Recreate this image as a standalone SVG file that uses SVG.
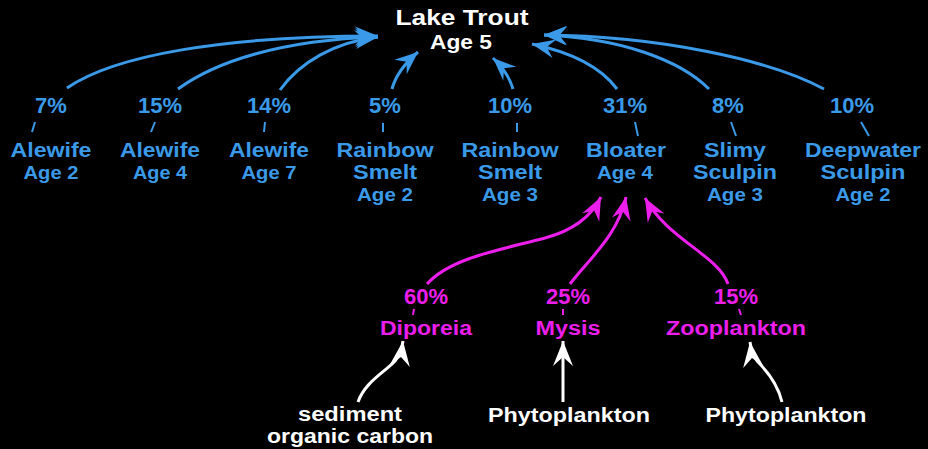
<svg xmlns="http://www.w3.org/2000/svg" width="928" height="449" viewBox="0 0 928 449">
<defs>
<style>
text{font-family:"Liberation Sans",Arial,sans-serif;font-weight:bold;text-anchor:middle}
.t{fill:#ffffff}
.b{fill:#3a9ae8}
.m{fill:#ec1eec}
.w{fill:#ffffff}
.nm{font-size:19.5px}
.ag{font-size:19px}
.pc{font-size:22px}
.eb{fill:none;stroke:#3a9ae8;stroke-width:3}
.em{fill:none;stroke:#ec1eec;stroke-width:3}
.ew{fill:none;stroke:#ffffff;stroke-width:3}
.tk{fill:none;stroke-width:2}
</style>
<marker id="ah-b" viewBox="-25 -11 27 22" refX="0" refY="0" markerWidth="27" markerHeight="22" markerUnits="userSpaceOnUse" orient="auto"><path d="M0,0 L-23,-9.5 L-15,0 L-23,9.5 Z" fill="#3a9ae8"/></marker>
<marker id="ah-m" viewBox="-25 -11 27 22" refX="0" refY="0" markerWidth="27" markerHeight="22" markerUnits="userSpaceOnUse" orient="auto"><path d="M0,0 L-23,-9.5 L-15,0 L-23,9.5 Z" fill="#ec1eec"/></marker>
<marker id="ah-w" viewBox="-27 -12 29 24" refX="0" refY="0" markerWidth="29" markerHeight="24" markerUnits="userSpaceOnUse" orient="auto"><path d="M0,0 L-25,-10 L-16,0 L-25,10 Z" fill="#ffffff"/></marker>
</defs>
<rect x="0" y="0" width="928" height="449" fill="#000000"/>

<g id="connectors">
  <path class="eb" d="M67 88 C115 55, 225 36, 378 36" marker-end="url(#ah-b)"/>
  <path class="eb" d="M178 89 C215 62, 280 40, 378 37" marker-end="url(#ah-b)"/>
  <path class="eb" d="M280 90 C300 62, 335 42, 378 37" marker-end="url(#ah-b)"/>
  <path class="eb" d="M392 89 Q397 70 418 52" marker-end="url(#ah-b)"/>
  <path class="eb" d="M513 89 Q508 72 493 58" marker-end="url(#ah-b)"/>
  <path class="eb" d="M617 89 C600 66, 570 52, 532 44" marker-end="url(#ah-b)"/>
  <path class="eb" d="M709 89 C680 60, 620 38, 544 35" marker-end="url(#ah-b)"/>
  <path class="eb" d="M824 89 C770 60, 660 36, 544 35" marker-end="url(#ah-b)"/>
  <g stroke="#3a9ae8" class="tk">
    <line x1="35" y1="122" x2="32" y2="132"/>
    <line x1="155" y1="122" x2="151" y2="132"/>
    <line x1="265" y1="122" x2="264" y2="132"/>
    <line x1="383" y1="123" x2="383" y2="132"/>
    <line x1="517" y1="123" x2="517" y2="132"/>
    <line x1="635" y1="122" x2="638" y2="136"/>
    <line x1="731" y1="122" x2="736" y2="136"/>
    <line x1="861" y1="122" x2="869" y2="136"/>
  </g>
  <path class="em" d="M427 284 C450 258, 500 250, 545 238 C575 230, 592 215, 601 197" marker-end="url(#ah-m)"/>
  <path class="em" d="M570 284 C590 258, 618 235, 626 197" marker-end="url(#ah-m)"/>
  <path class="em" d="M728 284 C718 255, 668 240, 645 198" marker-end="url(#ah-m)"/>
  <g stroke="#ec1eec" class="tk">
    <line x1="414" y1="309" x2="413" y2="315"/>
    <line x1="563" y1="309" x2="563" y2="315"/>
    <line x1="739" y1="309" x2="741" y2="315"/>
  </g>
  <path class="ew" d="M358 402 C365 382, 385 372, 395 361 C399 356, 402 349, 403 341" marker-end="url(#ah-w)"/>
  <path class="ew" d="M563 402 L563 341" marker-end="url(#ah-w)"/>
  <path class="ew" d="M782 402 C778 385, 768 372, 758 362 C754 357, 751 350, 750 342" marker-end="url(#ah-w)"/>
  <g id="edge-labels">
    <text class="b pc" x="51" y="113">7%</text>
    <text class="b pc" x="160" y="113">15%</text>
    <text class="b pc" x="269" y="113">14%</text>
    <text class="b pc" x="385" y="113">5%</text>
    <text class="b pc" x="510" y="113">10%</text>
    <text class="b pc" x="625" y="113">31%</text>
    <text class="b pc" x="728" y="113">8%</text>
    <text class="b pc" x="852" y="113">10%</text>
    <text class="m pc" x="426" y="304">60%</text>
    <text class="m pc" x="568" y="304">25%</text>
    <text class="m pc" x="736" y="304">15%</text>
  </g>
</g>

<g id="lake-trout">
  <text class="t" font-size="22"><tspan x="462" y="25" textLength="133" lengthAdjust="spacingAndGlyphs">Lake Trout</tspan><tspan x="461" y="49" font-size="20" textLength="62" lengthAdjust="spacingAndGlyphs">Age 5</tspan></text>
</g>
<g id="alewife-2">
  <text class="b nm"><tspan x="51" y="157" textLength="81" lengthAdjust="spacingAndGlyphs">Alewife</tspan><tspan class="ag" x="51" y="179" textLength="55" lengthAdjust="spacingAndGlyphs">Age 2</tspan></text>
</g>
<g id="alewife-4">
  <text class="b nm"><tspan x="160" y="157" textLength="80" lengthAdjust="spacingAndGlyphs">Alewife</tspan><tspan class="ag" x="160" y="179" textLength="54" lengthAdjust="spacingAndGlyphs">Age 4</tspan></text>
</g>
<g id="alewife-7">
  <text class="b nm"><tspan x="269" y="157" textLength="80" lengthAdjust="spacingAndGlyphs">Alewife</tspan><tspan class="ag" x="269" y="179" textLength="55" lengthAdjust="spacingAndGlyphs">Age 7</tspan></text>
</g>
<g id="rainbow-smelt-2">
  <text class="b nm"><tspan x="385" y="157" textLength="97" lengthAdjust="spacingAndGlyphs">Rainbow</tspan><tspan x="385" y="179" textLength="64" lengthAdjust="spacingAndGlyphs">Smelt</tspan><tspan class="ag" x="385" y="201" textLength="56" lengthAdjust="spacingAndGlyphs">Age 2</tspan></text>
</g>
<g id="rainbow-smelt-3">
  <text class="b nm"><tspan x="510" y="157" textLength="97" lengthAdjust="spacingAndGlyphs">Rainbow</tspan><tspan x="510" y="179" textLength="64" lengthAdjust="spacingAndGlyphs">Smelt</tspan><tspan class="ag" x="510" y="201" textLength="56" lengthAdjust="spacingAndGlyphs">Age 3</tspan></text>
</g>
<g id="bloater-4">
  <text class="b nm"><tspan x="626" y="157" textLength="80" lengthAdjust="spacingAndGlyphs">Bloater</tspan><tspan class="ag" x="625" y="179" textLength="56" lengthAdjust="spacingAndGlyphs">Age 4</tspan></text>
</g>
<g id="slimy-sculpin-3">
  <text class="b nm"><tspan x="735" y="157" textLength="62" lengthAdjust="spacingAndGlyphs">Slimy</tspan><tspan x="735" y="179" textLength="84" lengthAdjust="spacingAndGlyphs">Sculpin</tspan><tspan class="ag" x="735" y="201" textLength="56" lengthAdjust="spacingAndGlyphs">Age 3</tspan></text>
</g>
<g id="deepwater-sculpin-2">
  <text class="b nm"><tspan x="863" y="157" textLength="116" lengthAdjust="spacingAndGlyphs">Deepwater</tspan><tspan x="863" y="179" textLength="85" lengthAdjust="spacingAndGlyphs">Sculpin</tspan><tspan class="ag" x="863" y="201" textLength="55" lengthAdjust="spacingAndGlyphs">Age 2</tspan></text>
</g>
<g id="diporeia">
  <text class="m nm" x="426" y="335" textLength="92" lengthAdjust="spacingAndGlyphs">Diporeia</text>
</g>
<g id="mysis">
  <text class="m nm" x="568" y="335" textLength="65" lengthAdjust="spacingAndGlyphs">Mysis</text>
</g>
<g id="zooplankton">
  <text class="m nm" x="736" y="335" textLength="140" lengthAdjust="spacingAndGlyphs">Zooplankton</text>
</g>
<g id="sediment-organic-carbon">
  <text class="w nm"><tspan x="350" y="421" textLength="104" lengthAdjust="spacingAndGlyphs">sediment</tspan><tspan x="350" y="443" textLength="166" lengthAdjust="spacingAndGlyphs">organic carbon</tspan></text>
</g>
<g id="phytoplankton-1">
  <text class="w nm" x="569" y="422" textLength="162" lengthAdjust="spacingAndGlyphs">Phytoplankton</text>
</g>
<g id="phytoplankton-2">
  <text class="w nm" x="786" y="422" textLength="161" lengthAdjust="spacingAndGlyphs">Phytoplankton</text>
</g>
</svg>
